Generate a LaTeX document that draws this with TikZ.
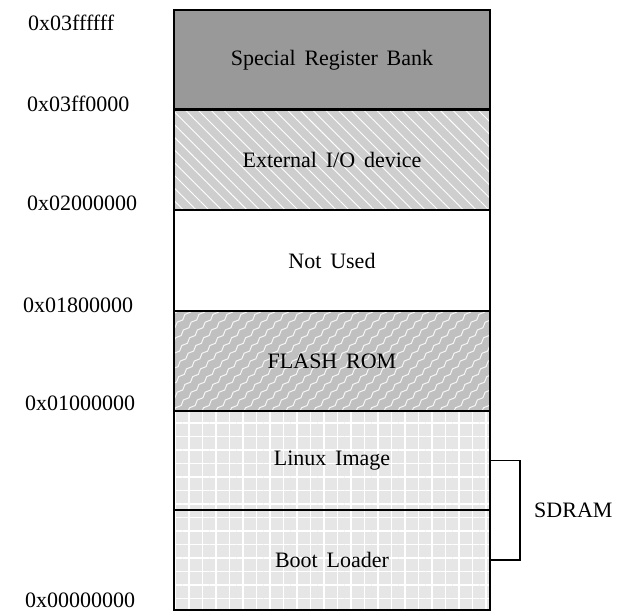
\documentclass[tikz,border=0pt]{standalone}
\usepackage{fontspec}
\setmainfont[WordSpace=1.6]{Liberation Serif}
\usetikzlibrary{positioning,patterns.meta,decorations.pathmorphing}
\definecolor{bankgray}{RGB}{153,153,153}
\definecolor{iogray}{RGB}{206,206,206}
\definecolor{flashgray}{RGB}{192,192,192}
\definecolor{ramgray}{RGB}{230,230,230}

\begin{document}
\begin{tikzpicture}[x=1pt, y=-1pt,
    every node/.style={font=\fontsize{22}{26}\selectfont},
    region/.style={draw, line width=1.2pt, minimum width=316pt, inner sep=0pt, outer sep=0pt},
    addr/.style={anchor=base west, inner sep=0pt},
    wave/.style={white!85!flashgray, line width=1pt, decorate, decoration={snake, segment length=11pt, amplitude=1.2pt}},
    hatched/.style={path picture={\fill[pattern={#1}, pattern color=white]
        (path picture bounding box.south west) rectangle (path picture bounding box.north east);}},
    bracket/.style={line width=1.2pt}
]
\useasboundingbox (0,0) rectangle (617,612);

% memory regions, top to bottom
\node[region, fill=bankgray, minimum height=100pt] (srb) at (332,60) {Special Register Bank};
\node[region, fill=iogray, minimum height=100pt,
      hatched={Lines[angle=-45,distance=9pt,line width=0.9pt]}]
      (io) at (332,160) {External I/O device};
\node[region, fill=white, minimum height=101pt] (unused) at (332,260.5) {Not Used};
\node[region, fill=flashgray, minimum height=100pt,
      path picture={\foreach \k in {-10,...,24}
        \draw[wave] ([xshift=\k*14pt]path picture bounding box.south west) -- ++(150,-150);}]
      (flash) at (332,361) {FLASH ROM};
\node[region, fill=ramgray, minimum height=99pt,
      hatched={Hatch[angle=0,distance=13.5pt,line width=1.1pt]}]
      (linux) at (332,460.5) {Linux Image};
\node[region, fill=ramgray, minimum height=100pt,
      hatched={Hatch[angle=0,distance=13.5pt,line width=1.1pt]}]
      (boot) at (332,560) {Boot Loader};
\draw[line width=3pt] (srb.south west) -- (srb.south east);

% addresses
\node[addr] (a0) at (28,31) {0x03ffffff};
\node[addr] (a1) at (27,112) {0x03ff0000};
\node[addr] (a2) at (27,210) {0x02000000};
\node[addr] (a3) at (23,312) {0x01800000};
\node[addr] (a4) at (25,410) {0x01000000};
\node[addr] (a5) at (25,607) {0x00000000};

% sdram bracket
\draw[bracket] (linux.east) -- ++(30,0) coordinate (brktop) |- (boot.east);
\path (brktop) -- (brktop |- boot.east) coordinate[pos=0.5] (brkmid);
\node[right=14pt of brkmid, inner sep=0pt] (sdram) {SDRAM};
\end{tikzpicture}
\end{document}
